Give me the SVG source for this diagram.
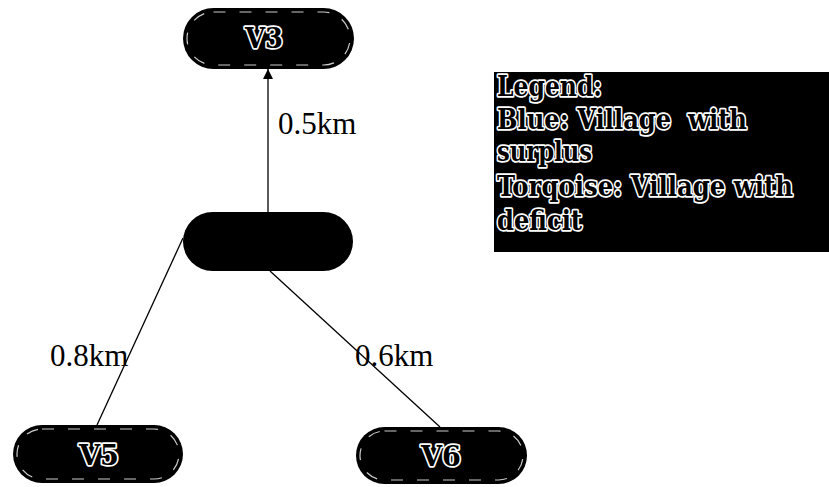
<svg xmlns="http://www.w3.org/2000/svg" width="829" height="487" viewBox="0 0 829 487">
  <style>
    .node { fill: #000; }
    .rim { fill: none; stroke: #fff; stroke-width: 1.2; stroke-dasharray: 12 14; opacity: 0.8; }
    .outlined { font-family: "DejaVu Serif", "Liberation Serif", serif; font-weight: bold; fill: #000; stroke: #fff; stroke-width: 3.4; stroke-linejoin: round; paint-order: stroke fill; }
    .nlabel { font-size: 27px; text-anchor: middle; dominant-baseline: central; }
    .legend-text { font-size: 27px; }
    .edge { stroke: #000; stroke-width: 1.3; fill: none; }
    .elabel { font-family: "Liberation Serif", "DejaVu Serif", serif; font-size: 31px; fill: #000; }
  </style>
  <defs>
    <marker id="arrow" viewBox="0 0 10 10" refX="10" refY="5" markerWidth="10" markerHeight="10" markerUnits="userSpaceOnUse" orient="auto">
      <path d="M0,0 L10,5 L0,10 Z" fill="#000"/>
    </marker>
  </defs>
  <rect width="829" height="487" fill="#fff"/>

  <!-- connectors -->
  <g id="connectors">
    <line class="edge" x1="268" y1="212" x2="268" y2="69" marker-end="url(#arrow)"/>
    <line class="edge" x1="183" y1="238" x2="97" y2="425"/>
    <line class="edge" x1="270" y1="271" x2="440" y2="427"/>
    <text class="elabel" x="278" y="134">0.5km</text>
    <text class="elabel" x="50" y="366">0.8km</text>
    <text class="elabel" x="355" y="366">0.6km</text>
  </g>

  <!-- nodes -->
  <g id="node-v3">
    <rect class="node" x="183" y="8" width="171" height="61" rx="30.5"/>
    <rect class="rim" x="187" y="12" width="163" height="53" rx="26.5"/>
    <text class="outlined nlabel" x="264" y="38" textLength="38" lengthAdjust="spacingAndGlyphs">V3</text>
  </g>
  <g id="node-center">
    <rect class="node" x="183" y="212" width="170" height="59" rx="29.5"/>
  </g>
  <g id="node-v5">
    <rect class="node" x="13" y="425" width="170" height="58" rx="29"/>
    <rect class="rim" x="17" y="429" width="162" height="50" rx="25"/>
    <text class="outlined nlabel" x="99" y="455" textLength="40" lengthAdjust="spacingAndGlyphs">V5</text>
  </g>
  <g id="node-v6">
    <rect class="node" x="356" y="427" width="171" height="57" rx="28.5"/>
    <rect class="rim" x="360" y="431" width="163" height="49" rx="24.5"/>
    <text class="outlined nlabel" x="441" y="456" textLength="40" lengthAdjust="spacingAndGlyphs">V6</text>
  </g>

  <!-- legend -->
  <g id="legend">
    <rect x="494" y="72" width="335" height="180" fill="#000"/>
    <text class="outlined legend-text" x="497" y="96" textLength="105" lengthAdjust="spacingAndGlyphs">Legend:</text>
    <text class="outlined legend-text" x="497" y="129" textLength="250" lengthAdjust="spacingAndGlyphs" xml:space="preserve">Blue: Village  with</text>
    <text class="outlined legend-text" x="497" y="161" textLength="95" lengthAdjust="spacingAndGlyphs">surplus</text>
    <text class="outlined legend-text" x="497" y="196" textLength="296" lengthAdjust="spacingAndGlyphs">Torqoise: Village with</text>
    <text class="outlined legend-text" x="497" y="230" textLength="85" lengthAdjust="spacingAndGlyphs">deficit</text>
  </g>
</svg>
